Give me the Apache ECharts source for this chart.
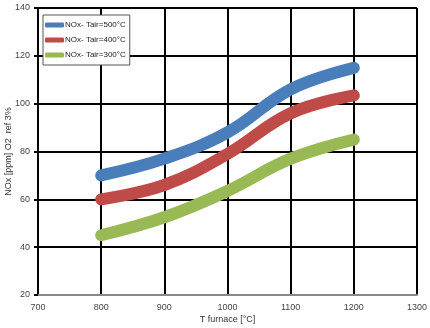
<!DOCTYPE html>
<html><head><meta charset="utf-8">
<script src="https://cdn.jsdelivr.net/npm/echarts@6/dist/echarts.min.js"></script>
<style>html,body{margin:0;padding:0;background:#fff}#c{width:430px;height:328px}</style>
</head><body><div id="c"></div>
<script>
const temps = [800, 900, 1000, 1100, 1200];
const nox500 = [70, 77, 88, 106, 115];
const nox400 = [60, 66, 79, 96, 103.5];
const nox300 = [45, 52.5, 63.5, 77, 85];
const seriesNames = ['NOx- Tair=500°C', 'NOx- Tair=400°C', 'NOx- Tair=300°C'];
const colors = ['#4a7ebb', '#be4b48', '#98b954'];
const allData = [nox500, nox400, nox300];

const chart = echarts.init(document.getElementById('c'));
chart.setOption({
  animation: false,
  grid: {left: 38, right: 13, top: 8, bottom: 33, outerBoundsMode: 'none', containLabel: false},
  legend: {
    left: 43, top: 15, orient: 'vertical', itemGap: 7,
    itemWidth: 19, itemHeight: 5, icon: 'roundRect',
    padding: [6, 4, 6, 2], borderColor: '#555', borderWidth: 1, backgroundColor: '#fff',
    textStyle: {fontSize: 8, color: '#222', fontFamily: 'Liberation Sans, Arial', padding: [0, 0, 0, -4]},
    data: seriesNames
  },
  xAxis: {
    type: 'value', min: 700, max: 1300, interval: 100,
    name: 'T furnace [°C]', nameLocation: 'middle', nameGap: 20, nameMoveOverlap: false,
    nameTextStyle: {fontSize: 9, color: '#333', fontFamily: 'Liberation Sans, Arial'},
    axisLine: {show: true, onZero: false, lineStyle: {color: '#888', width: 2}},
    axisTick: {show: false},
    axisLabel: {fontSize: 9, color: '#444', fontFamily: 'Liberation Sans, Arial', margin: 8, formatter: v => String(v)},
    splitLine: {show: true, lineStyle: {color: '#000', width: 2}}
  },
  yAxis: {
    type: 'value', min: 20, max: 140, interval: 20,
    name: 'NOx [ppm] O2  ref 3%', nameLocation: 'middle', nameGap: 25, nameMoveOverlap: false,
    nameTextStyle: {fontSize: 9, color: '#333', fontFamily: 'Liberation Sans, Arial'},
    axisLine: {show: true, lineStyle: {color: '#000', width: 2}},
    axisTick: {show: true, length: 4, lineStyle: {color: '#000', width: 2}},
    axisLabel: {fontSize: 9, color: '#444', fontFamily: 'Liberation Sans, Arial', margin: 8, formatter: v => String(v)},
    splitLine: {show: true, lineStyle: {color: '#000', width: 2}}
  },
  series: allData.map((d, i) => ({
    name: seriesNames[i], type: 'line', smooth: 0.4, showSymbol: false,
    symbol: 'none',
    color: colors[i],
    lineStyle: {width: 12, color: colors[i], cap: 'round', join: 'round'},
    data: temps.map((t, j) => [t, d[j]])
  }))
});
</script></body></html>
